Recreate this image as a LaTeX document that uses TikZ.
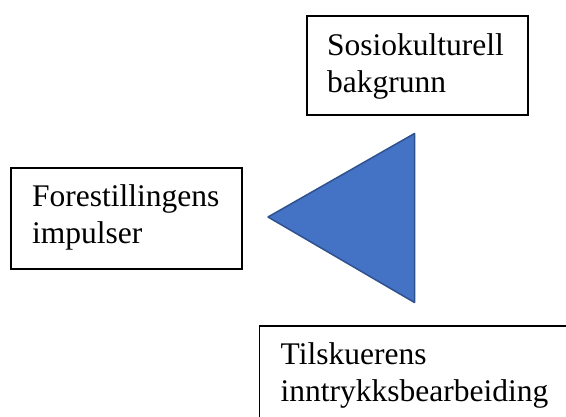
\documentclass[tikz,border=0pt]{standalone}
\usepackage{fontspec}
\setmainfont{Liberation Serif}
\begin{document}
\begin{tikzpicture}[x=1pt,y=-1pt,
  box/.style={draw=black,line width=1.8pt,rectangle,inner sep=0pt,anchor=north west},
  label/.style={anchor=base west,inner sep=0pt,align=left,font=\fontsize{31.5}{37}\selectfont},
  tri/.style={fill=triblue,draw=triedge,line width=1.5pt,line join=round}]
\definecolor{triblue}{HTML}{4472C4}
\definecolor{triedge}{HTML}{2F528F}
\useasboundingbox[fill=white] (0,0) rectangle (566,417);
\node[box,minimum width=221pt,minimum height=99pt] (b1) at (306,15) {};
\node[label] (t1) at (327,93) {Sosiokulturell\\bakgrunn};
\node[box,minimum width=231pt,minimum height=101pt] (b2) at (10,167) {};
\node[label] (t2) at (32,244) {Forestillingens\\impulser};
\node[box,minimum width=340pt,minimum height=140pt] (b3) at (258.5,325) {};
\node[label] (t3) at (280.5,402) {Tilskuerens\\inntrykksbearbeiding};
\coordinate (p1) at (268,217);
\coordinate (p2) at (414.5,133.5);
\coordinate (p3) at (414.5,302.5);
\draw[tri] (p1) -- (p2) -- (p3) -- cycle;
\end{tikzpicture}
\end{document}
